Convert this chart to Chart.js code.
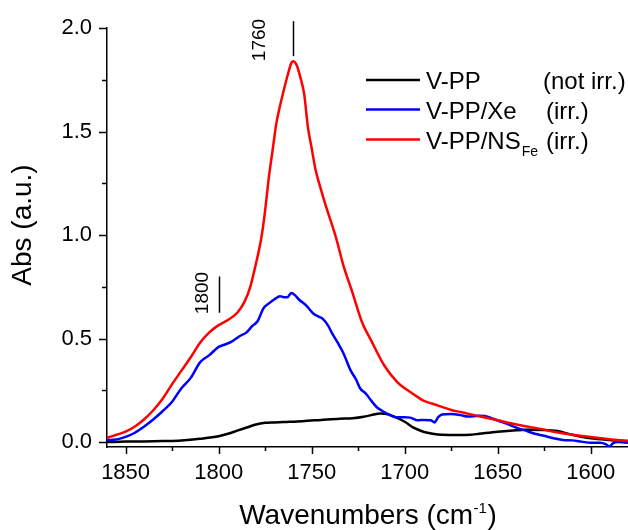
<!DOCTYPE html>
<html>
<head>
<meta charset="utf-8">
<script src="https://cdn.jsdelivr.net/npm/chart.js@4.4.0/dist/chart.umd.min.js"></script>
<style>
  body { margin: 0; background: #fff; }
</style>
</head>
<body>
<canvas id="ftir" width="628" height="530"></canvas>
<script>
// spectra (wavenumber / absorbance)
var blackX = [1860, 1850, 1840, 1830, 1820, 1810, 1800, 1795, 1790, 1785, 1780, 1775, 1770, 1765, 1755, 1745, 1735, 1728, 1722, 1718, 1713, 1709, 1705, 1700, 1695, 1690, 1685, 1680, 1670, 1665, 1660, 1650, 1640, 1635, 1625, 1618, 1610, 1600, 1590, 1580];
var blackY = [0.0, 0.002, 0.003, 0.005, 0.008, 0.016, 0.028, 0.04, 0.055, 0.07, 0.085, 0.093, 0.095, 0.097, 0.101, 0.107, 0.113, 0.115, 0.122, 0.13, 0.138, 0.134, 0.12, 0.098, 0.068, 0.05, 0.04, 0.035, 0.034, 0.035, 0.04, 0.05, 0.057, 0.059, 0.058, 0.053, 0.035, 0.018, 0.01, 0.005];

var blueX = [1860, 1855, 1850, 1845, 1840, 1835, 1830, 1825, 1820, 1815, 1810, 1805, 1800, 1797, 1793, 1789, 1785, 1782, 1779, 1776, 1773, 1770, 1767, 1765, 1763, 1761, 1759, 1757, 1753, 1749, 1746, 1744, 1741, 1739, 1736, 1733, 1729, 1726, 1724, 1721, 1718, 1715, 1712, 1708, 1705, 1700, 1697, 1693, 1690, 1686, 1684, 1682, 1680, 1675, 1670, 1666, 1660, 1657, 1654, 1650, 1645, 1640, 1635, 1630, 1625, 1620, 1615, 1610, 1605, 1600, 1595, 1592, 1590, 1588, 1585, 1580];
var blueY = [0.01, 0.012, 0.025, 0.045, 0.075, 0.11, 0.15, 0.195, 0.26, 0.31, 0.385, 0.42, 0.46, 0.47, 0.485, 0.51, 0.53, 0.56, 0.585, 0.645, 0.67, 0.69, 0.705, 0.70, 0.70, 0.72, 0.71, 0.69, 0.66, 0.62, 0.605, 0.595, 0.56, 0.525, 0.48, 0.43, 0.345, 0.30, 0.26, 0.235, 0.20, 0.168, 0.15, 0.13, 0.12, 0.12, 0.118, 0.105, 0.107, 0.105, 0.095, 0.12, 0.133, 0.136, 0.13, 0.123, 0.127, 0.126, 0.118, 0.104, 0.088, 0.07, 0.055, 0.04, 0.03, 0.018, 0.01, 0.008, 0.002, -0.004, -0.003, -0.01, -0.022, -0.005, 0.0, -0.003];

var redX = [1860, 1855, 1850, 1845, 1840, 1835, 1830, 1825, 1820, 1815, 1810, 1805, 1800, 1795, 1790, 1786, 1783, 1780, 1777, 1775, 1773, 1771, 1769, 1767, 1765, 1763, 1761, 1760, 1758, 1756, 1754, 1752, 1750, 1748, 1745, 1742, 1737, 1733, 1728, 1723, 1718, 1711, 1704, 1700, 1695, 1690, 1685, 1680, 1675, 1670, 1665, 1660, 1655, 1650, 1640, 1630, 1625, 1620, 1610, 1600, 1590, 1580];
var redY = [0.02, 0.035, 0.05, 0.075, 0.11, 0.155, 0.21, 0.28, 0.345, 0.41, 0.48, 0.53, 0.565, 0.59, 0.625, 0.68, 0.75, 0.86, 0.99, 1.12, 1.28, 1.41, 1.54, 1.625, 1.70, 1.77, 1.83, 1.84, 1.82, 1.76, 1.68, 1.52, 1.42, 1.32, 1.22, 1.13, 0.99, 0.855, 0.72, 0.58, 0.49, 0.37, 0.29, 0.26, 0.23, 0.20, 0.185, 0.17, 0.155, 0.145, 0.135, 0.125, 0.115, 0.105, 0.085, 0.068, 0.06, 0.05, 0.035, 0.024, 0.014, 0.005];

var seriesNames = ["V-PP", "V-PP/Xe", "V-PP/NS"];
var seriesNotes = ["(not irr.)", "(irr.)", "(irr.)"];

var xTicks = [1600, 1650, 1700, 1750, 1800, 1850];
var xMinorTicks = [1625, 1675, 1725, 1775, 1825];
var yTicks = [0, 0.5, 1.0, 1.5, 2.0];
var yMinorTicks = [0.25, 0.75, 1.25, 1.75];

// peak labels
var peakLabels = ["1760", "1800"];
var peakAt = [1760, 1800];

var FONT = "'Liberation Sans', Arial, sans-serif";

function pairs(xs, ys) {
    var out = [];
    for (var i = 0; i < xs.length; i++) {
        out.push({x: xs[i], y: ys[i]});
    }
    return out;
}

// 軸の目盛り・注記・凡例・軸タイトル
var decor = {
    id: 'decor',
    afterDraw: function(chart) {
        var ctx = chart.ctx;
        var sx = chart.scales.x;
        var sy = chart.scales.y;
        var area = chart.chartArea;
        ctx.save();
        ctx.strokeStyle = '#000';
        ctx.fillStyle = '#000';
        ctx.lineWidth = 1.5;

        function seg(x1, y1, x2, y2) {
            ctx.beginPath();
            ctx.moveTo(x1, y1);
            ctx.lineTo(x2, y2);
            ctx.stroke();
        }

        // tick marks
        xTicks.forEach(function(v) {
            var p = Math.round(sx.getPixelForValue(v)) + 0.5;
            seg(p, area.bottom, p, area.bottom + 7);
        });
        xMinorTicks.forEach(function(v) {
            var p = Math.round(sx.getPixelForValue(v)) + 0.5;
            seg(p, area.bottom, p, area.bottom + 4);
        });
        yTicks.forEach(function(v) {
            var p = Math.round(sy.getPixelForValue(v)) + 0.5;
            seg(area.left - 8, p, area.left, p);
        });
        yMinorTicks.forEach(function(v) {
            var p = Math.round(sy.getPixelForValue(v)) + 0.5;
            seg(area.left - 5, p, area.left, p);
        });

        // peak marks
        var marks = [
            {top: 2.034, bottom: 1.865, textX: 1778.3, textY: 1.943},
            {top: 0.80, bottom: 0.625, textX: 1809, textY: 0.72}
        ];
        ctx.font = '19px ' + FONT;
        ctx.textAlign = 'center';
        ctx.textBaseline = 'middle';
        for (var i = 0; i < peakAt.length; i++) {
            var px = Math.round(sx.getPixelForValue(peakAt[i])) + 0.5;
            seg(px, sy.getPixelForValue(marks[i].top), px, sy.getPixelForValue(marks[i].bottom));
            ctx.save();
            ctx.translate(sx.getPixelForValue(marks[i].textX), sy.getPixelForValue(marks[i].textY));
            ctx.rotate(-Math.PI / 2);
            ctx.fillText(peakLabels[i], 0, 1);
            ctx.restore();
        }

        // legend
        var rows = [80, 109.5, 139.5];
        var notesX = [543, 546, 546];
        ctx.textAlign = 'left';
        ctx.textBaseline = 'alphabetic';
        chart.data.datasets.forEach(function(ds, k) {
            ctx.strokeStyle = ds.borderColor;
            ctx.lineWidth = 2.5;
            seg(366, rows[k], 420, rows[k]);
            ctx.font = '24px ' + FONT;
            ctx.fillText(seriesNames[k], 426, rows[k] + 9.3);
            if (k === 2) {
                var w = ctx.measureText(seriesNames[k]).width;
                ctx.font = '14px ' + FONT;
                ctx.fillText('Fe', 426 + w + 1, rows[k] + 16.5);
                ctx.font = '24px ' + FONT;
            }
            ctx.fillText(seriesNotes[k], notesX[k], rows[k] + 9.3);
        });

        // axis titles
        ctx.font = '28px ' + FONT;
        var t1 = 'Wavenumbers (cm';
        var t2 = '-1';
        var t3 = ')';
        var w1 = ctx.measureText(t1).width;
        var w3 = ctx.measureText(t3).width;
        ctx.font = '15px ' + FONT;
        var w2 = ctx.measureText(t2).width;
        var startX = (area.left + area.right) / 2 - (w1 + w2 + w3) / 2;
        ctx.font = '28px ' + FONT;
        ctx.fillText(t1, startX, 524);
        ctx.fillText(t3, startX + w1 + w2 + 1, 524);
        ctx.font = '15px ' + FONT;
        ctx.fillText(t2, startX + w1 + 0.5, 513);

        ctx.save();
        ctx.translate(23, 225);
        ctx.rotate(-Math.PI / 2);
        ctx.font = '28px ' + FONT;
        ctx.textAlign = 'center';
        ctx.textBaseline = 'middle';
        ctx.fillText('Abs (a.u.)', 0, 0);
        ctx.restore();

        ctx.restore();
    }
};

var ctx1 = document.getElementById("ftir");

var chart = new Chart(ctx1, {
    type: 'line',
    data: {
        datasets: [{
            label: seriesNames[0],
            data: pairs(blackX, blackY),
            borderColor: '#000000',
            borderWidth: 2.5,
            pointRadius: 0,
            cubicInterpolationMode: 'monotone',
            order: 3
        }, {
            label: seriesNames[1],
            data: pairs(blueX, blueY),
            borderColor: '#0000ff',
            borderWidth: 2.5,
            pointRadius: 0,
            cubicInterpolationMode: 'monotone',
            order: 2
        }, {
            label: seriesNames[2],
            data: pairs(redX, redY),
            borderColor: '#ff0000',
            borderWidth: 2.5,
            pointRadius: 0,
            cubicInterpolationMode: 'monotone',
            order: 1
        }]
    },
    options: {
        responsive: false,
        animation: false,
        layout: {
            padding: {left: 0, top: 24, right: 0, bottom: 0}
        },
        plugins: {
            legend: {display: false},
            tooltip: {enabled: false}
        },
        scales: {
            x: {
                type: 'linear',
                reverse: true,
                min: 1580,
                max: 1860,
                afterBuildTicks: function(scale) {
                    scale.ticks = xTicks.map(function(v) { return {value: v}; });
                },
                afterFit: function(scale) {
                    scale.height = 83;
                },
                grid: {display: false, drawTicks: false},
                border: {display: true, color: '#000', width: 1.5},
                ticks: {
                    color: '#000',
                    padding: 13,
                    maxRotation: 0,
                    font: {family: FONT, size: 22},
                    callback: function(v) { return String(v); }
                }
            },
            y: {
                type: 'linear',
                min: -0.024,
                max: 2.0,
                afterBuildTicks: function(scale) {
                    scale.ticks = yTicks.map(function(v) { return {value: v}; });
                },
                afterFit: function(scale) {
                    scale.width = 107;
                },
                grid: {display: false, drawTicks: false},
                border: {display: true, color: '#000', width: 1.5},
                ticks: {
                    color: '#000',
                    padding: 15,
                    font: {family: FONT, size: 22},
                    callback: function(v) { return v.toFixed(1); }
                }
            }
        }
    },
    plugins: [decor]
});
</script>
</body>
</html>
